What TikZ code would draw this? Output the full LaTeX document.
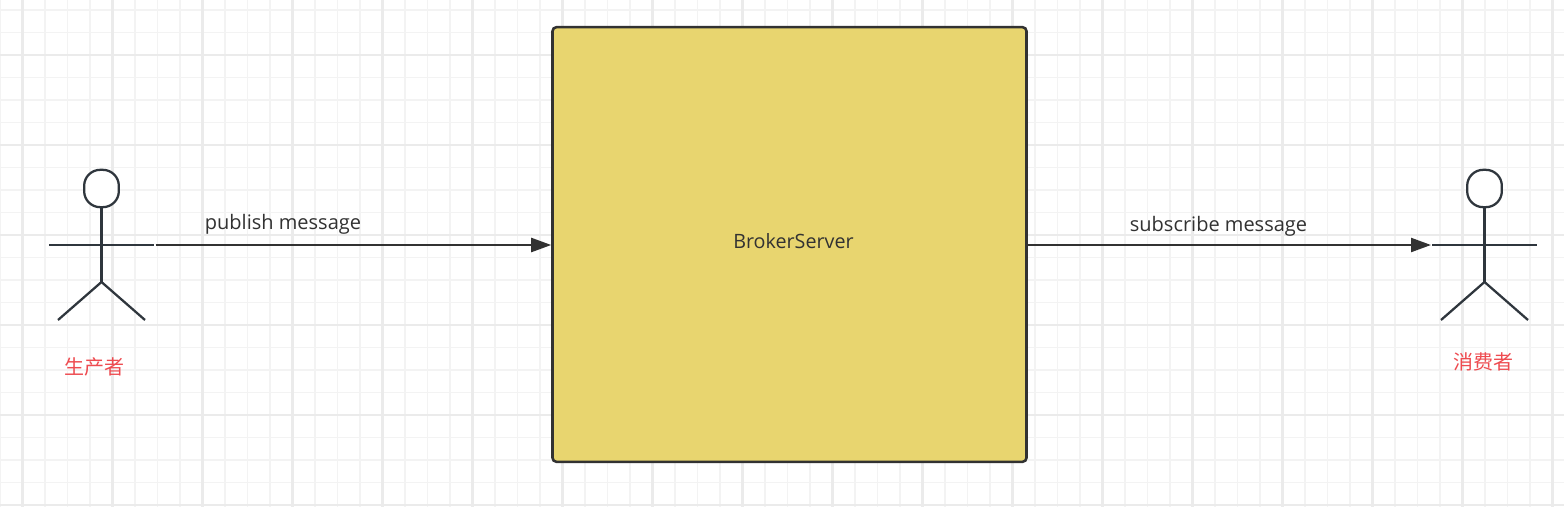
\documentclass[tikz,border=0pt]{standalone}
\usepackage{fontspec}
\setmainfont{Open Sans}
\newfontfamily\cjk{Noto Sans CJK SC}
\usetikzlibrary{arrows.meta,shapes.geometric}
\definecolor{ink}{HTML}{323232}
\definecolor{actorink}{HTML}{2F363D}
\definecolor{gridminor}{HTML}{F3F3F3}
\definecolor{gridmajor}{HTML}{EBEBEB}
\definecolor{boxfill}{HTML}{E8D56F}
\definecolor{redlabel}{HTML}{EE4B50}
\tikzset{
  px/.style={x=0.75pt,y=-0.75pt},
  actorline/.style={draw=actorink,line width=1.7pt,line cap=butt,line join=round},
  actorhead/.style={draw=actorink,fill=white,line width=1.7pt,rounded corners=12pt,rectangle,minimum width=26pt,minimum height=28pt,inner sep=0pt},
  broker/.style={draw=ink,fill=boxfill,line width=1.9pt,rounded corners=3pt,minimum width=355.5pt,minimum height=326pt,inner sep=0pt},
  msg/.style={text=ink,font=\fontsize{15}{18}\selectfont,inner sep=0pt},
  brokertext/.style={text=ink,font=\fontsize{14.8}{18}\selectfont,inner sep=0pt},
  role/.style={text=redlabel,font=\cjk\fontsize{15}{18}\selectfont,inner sep=0pt},
  flow/.style={draw=ink,line width=1.7pt,-{Triangle[length=15pt,width=10.5pt]}},
  minorline/.style={gridminor,line width=1.3pt},
  majorline/.style={gridmajor,line width=1.6pt}
}
\begin{document}
\begin{tikzpicture}[px]
\useasboundingbox (0,0) rectangle (1564,507);
\fill[white] (0,0) rectangle (1564,507);
\foreach \gx in {0.5,45,67.5,90,135,157.5,180} {
  \foreach \k in {0,...,17} {
    \draw[minorline] ({\gx+90*\k},0) -- ({\gx+90*\k},507);
  }
}
\foreach \gy in {10,32.5,77.5,100,122.5,167.5,190,212.5,257.5,280,302.5,347.5,370,392.5,437.5,460,482.5} {
  \draw[minorline] (0,\gy) -- (1564,\gy);
}
\foreach \k in {0,...,17} {
  \draw[majorline] ({22.5+90*\k},0) -- ({22.5+90*\k},507);
}
\foreach \gy in {55,145,235,325,415,505} {
  \draw[majorline] (0,\gy) -- (1564,\gy);
}

\node[broker] (server) at (789.5,244.5) {};
\node[brokertext] (servertext) at (793.5,241) {BrokerServer};

% producer
\node[actorhead] (phead) at (101.5,188.5) {};
\coordinate (parmL) at (49,245);
\coordinate (parmR) at (154,245);
\coordinate (phip) at (101.5,282);
\coordinate (plegL) at (58,320);
\coordinate (plegR) at (145,320);
\draw[actorline] (phead.south) -- (phip);
\draw[actorline] (parmL) -- (parmR);
\draw[actorline] (plegL) -- (phip) -- (plegR);
\node[role] (plabel) at (94,367) {生产者};

% consumer
\node[actorhead] (chead) at (1484.5,188.5) {};
\coordinate (carmL) at (1432,245);
\coordinate (carmR) at (1537,245);
\coordinate (chip) at (1484.5,282);
\coordinate (clegL) at (1441,320);
\coordinate (clegR) at (1528,320);
\draw[actorline] (chead.south) -- (chip);
\draw[actorline] (carmL) -- (carmR);
\draw[actorline] (clegL) -- (chip) -- (clegR);
\node[role] (clabel) at (1483,361.5) {消费者};

% connectors
\coordinate (pout) at (155.5,245);
\coordinate (cin) at (1431,245);
\draw[flow] (pout) -- (server.west |- pout);
\draw[flow] (server.east |- cin) -- (cin);
\node[msg] (pubtext) at (283,224.5) {publish message};
\node[msg] (subtext) at (1218.5,226.5) {subscribe message};
\end{tikzpicture}
\end{document}
